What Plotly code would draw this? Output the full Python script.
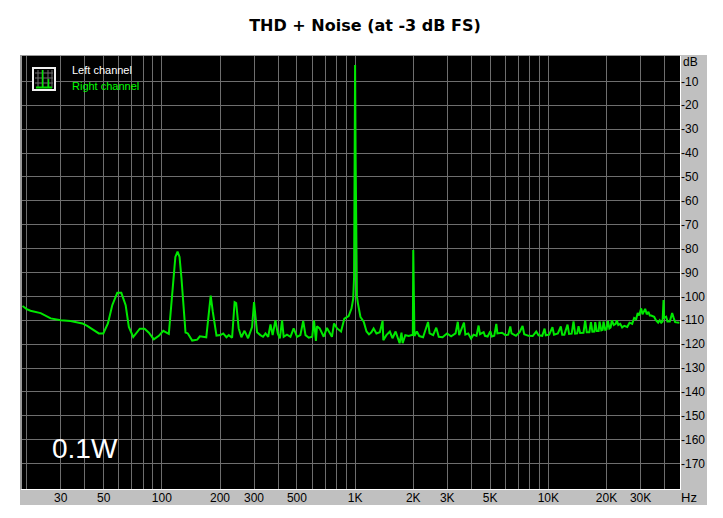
import plotly.graph_objects as go
import math

freq_hz = [19,20,20.9,23.6,26.6,30,33.7,38.8,41.1,44.5,47.2,49.8,52.6,55.4,58.8,61.7,65,67.5,71.1,76.9,
 81.4,85.7,90.9,96.5,101.7,108.7,114,117.5,120.6,123.5,126.4,132.6,136.3,143.6,152.5,157.3,169.8,175,179,183.5,191.8,201,
 207.8,216,222,231,238,242.5,249.8,258,267.8,279.3,293,300,311,323.6,334,344,355,365,374.5,387,398,
 408,419,427,444,463,481,501,521,539,554,576,600,613,627,635,656,688,715,759,778,
 807,846,880,926,958,978,988,994,1000,1006,1012,1022,1035,1066,1108,1146,1180,1214,1247,1290,1343,1388,
 1400,1452,1513,1561,1621,1672,1700,1738,1762,1819,1893,1967,1990,2000,2010,2028,2087,2148,2248,2385,
 2430,2535,2630,2710,2835,2990,3140,3310,3400,3455,3660,3720,3850,3980,4100,4250,4355,4430,4625,4700,
 4850,5010,5100,5250,5380,5450,5755,6000,6200,6355,6450,6800,7100,7355,7500,7900,8300,8655,8900,9300,
 9560,9700,10100,10500,10700,11200,11600,11800,12100,12570,12800,13200,13500,13750,14100,14330,14600,15200,15510,15800,
 16300,16610,16900,17300,17480,17800,18200,18400,18800,19100,19290,19700,20000,20330,20700,21000,21320,21800,22300,22630,
 23000,23550,24100,24700,25600,26300,27150,27800,28480,29000,29500,30230,30700,31700,32300,32960,33500,34040,35290,36000,
 36990,37700,38370,39000,39450,39700,40700,41330,42500,43720,44500,45300,47640]
level_db = [-104,-105.3,-106,-107,-109.2,-110,-110.3,-111.3,-112.3,-114.1,-115.5,-115.5,-111.3,-103.7,-98.5,-98.5,-103.7,-112.8,-117,-113.5,
 -113.5,-115.2,-118,-116.5,-114.4,-115.7,-93.9,-83.5,-81.3,-83.5,-92.5,-115.1,-115.5,-118.5,-118.1,-116.7,-117.1,-107.8,-99.7,-106.4,-116.4,-116.2,
 -115.5,-117.1,-116.2,-117.3,-102.4,-102.8,-113.4,-117.1,-114.4,-117.5,-112.8,-102.4,-115,-116.2,-116.9,-115.5,-116.9,-111.7,-116.2,-110,-115.5,
 -117.6,-110,-116.9,-116,-116.9,-113.4,-116.9,-116.2,-110.3,-116.2,-117.3,-116.9,-110,-118.6,-112.5,-113.4,-116.9,-113.2,-116.9,-111.3,
 -113.4,-114.7,-109.3,-108.2,-105.1,-101,-92,-40,-3.2,-40,-92,-100,-103,-108.6,-110.6,-114.7,-115.9,-115,-113.4,-115.5,-115,-110.2,
 -118.3,-116.2,-114.7,-117.5,-114.7,-118,-119.6,-115.2,-119.6,-116.2,-116.6,-116.2,-116.2,-80.6,-116.2,-116.6,-114.7,-116.6,-117.1,-110.7,
 -115.5,-116.2,-113.1,-116.9,-117.1,-115.5,-116.7,-115.5,-110.6,-116.2,-111,-116,-115.5,-117.6,-116,-116.5,-112.2,-115.8,-115,-116.5,
 -116.8,-114.6,-116.8,-116.5,-111.5,-115.5,-115.2,-116.2,-116,-112.6,-115.5,-116.5,-115,-112.4,-115.8,-116.5,-116.6,-114.7,-116.3,-116.5,
 -113.5,-116.3,-116,-112.9,-116,-115.5,-112.6,-116,-116,-111.8,-115.7,-115.6,-110.5,-115.6,-115.5,-112.5,-115.3,-115.2,-110,-115,
 -115,-110.8,-114.8,-114.7,-110.8,-114.5,-114.5,-110.5,-114.2,-114,-110.5,-114,-113.8,-110.3,-113.4,-113,-110,-112,-111.5,-110,
 -112,-111.5,-113,-112.3,-112.8,-111,-111.5,-109,-109.5,-107,-108,-105,-107.5,-105.2,-107.5,-106.5,-108,-108,-108.5,-110,
 -111,-110,-111,-110.5,-101.5,-109,-108.5,-110.5,-110.5,-107,-109,-110.8,-111]

grid_hz = [20,30,40,50,60,70,80,90,100,200,300,400,500,600,700,800,900,1000,2000,3000,4000,5000,6000,7000,8000,9000,10000,20000,30000,40000]
x_labels = {30:"30",50:"50",100:"100",200:"200",300:"300",500:"500",1000:"1K",2000:"2K",3000:"3K",5000:"5K",10000:"10K",20000:"20K",30000:"30K"}
db_ticks = list(range(-170,0,10))

W,H = 723,518
L,R,T,B = 22,680,56,489
px = lambda x: (x-L)/(R-L)
py = lambda y: (B-y)/(B-T)
def rect(x0,y0,x1,y1,fill=None,line=None,lw=1,layer="below"):
    return dict(type="rect",xref="paper",yref="paper",x0=px(x0),x1=px(x1),y0=py(y0),y1=py(y1),
                fillcolor=fill,line=dict(color=line,width=lw if line else 0),layer=layer)
def seg(x0,y0,x1,y1,c,lw=1,layer="above"):
    return dict(type="line",xref="paper",yref="paper",x0=px(x0),x1=px(x1),y0=py(y0),y1=py(y1),line=dict(color=c,width=lw),layer=layer)

shapes = [rect(20,55,707,505,"#c0c0c0"), rect(22,56,680,489,"#000000"),
          seg(20.5,55.5,680,55.5,"#9a9a9a",1,"below"), seg(21,55,21,489,"#9a9a9a",2,"below"),
          seg(680.5,56,680.5,490,"#ffffff",1,"below"), seg(21,489.5,681,489.5,"#ffffff",1,"below")]
# legend icon
shapes.append(dict(type="rect",xref="paper",yref="paper",x0=px(33),x1=px(55),y0=py(68),y1=py(90),
                   fillcolor="#000000",line=dict(color="#f0f0f0",width=2),layer="above"))
for gx in (38,43,48,52):
    shapes.append(seg(gx,70,gx,88,"#6e6e6e"))
for gy in (73,78,83):
    shapes.append(seg(35,gy,53,gy,"#6e6e6e"))
shapes.append(seg(36,87.5,52,87.5,"#00e000",2))
shapes.append(seg(42.5,87,42.5,70,"#00e800",1.5))
shapes.append(seg(48.5,87,48.5,79,"#00e800",1.5))

fig = go.Figure(go.Scatter(x=freq_hz,y=level_db,mode="lines",line=dict(color="#00e800",width=2),hoverinfo="skip"))
fig.update_layout(
    width=W,height=H,autosize=False,showlegend=False,
    margin=dict(l=L,r=W-R,t=T,b=H-B,pad=0),
    paper_bgcolor="#ffffff",plot_bgcolor="rgba(0,0,0,0)",
    title=dict(text="<b>THD + Noise (at -3 dB FS)</b>",font=dict(family="DejaVu Sans",size=16,color="#000"),
               x=365/W,xanchor="center",xref="container",y=1-25/H,yanchor="middle"),
    shapes=shapes,
    xaxis=dict(type="log",range=[math.log10(18.9),math.log10(48000)],tickmode="array",tickvals=grid_hz,
               ticktext=[x_labels.get(v,"") for v in grid_hz],showgrid=True,gridcolor="#6e6e6e",gridwidth=1,
               ticks="",showline=False,zeroline=False,tickangle=0,
               tickfont=dict(family="Liberation Sans",size=12,color="#000")),
    yaxis=dict(range=[-180.6,0.6],side="right",tickmode="array",tickvals=db_ticks,ticktext=[str(v) for v in db_ticks],
               showgrid=True,gridcolor="#6e6e6e",gridwidth=1,ticks="",showline=False,zeroline=False,
               tickfont=dict(family="Liberation Sans",size=12,color="#000")),
    annotations=[
        dict(xref="paper",yref="paper",x=px(70),y=py(70),text="Left channel",showarrow=False,xanchor="left",yanchor="middle",
             font=dict(family="Liberation Sans",size=11,color="#ffffff")),
        dict(xref="paper",yref="paper",x=px(70),y=py(86),text="Right channel",showarrow=False,xanchor="left",yanchor="middle",
             font=dict(family="Liberation Sans",size=11,color="#00ff00")),
        dict(xref="paper",yref="paper",x=px(50),y=py(448),text="0.1W",showarrow=False,xanchor="left",yanchor="middle",
             font=dict(family="Liberation Sans",size=28,color="#ffffff")),
        dict(xref="paper",yref="paper",x=px(681),y=py(62),text="dB",showarrow=False,xanchor="left",yanchor="middle",
             font=dict(family="Liberation Sans",size=12,color="#000")),
        dict(xref="paper",yref="paper",x=px(679),y=py(497),text="Hz",showarrow=False,xanchor="left",yanchor="middle",
             font=dict(family="Liberation Sans",size=13,color="#000")),
    ],
)
fig.write_html("out.html",post_script="document.body.style.margin='0';document.documentElement.style.overflow='hidden';",config={"displayModeBar":False})
